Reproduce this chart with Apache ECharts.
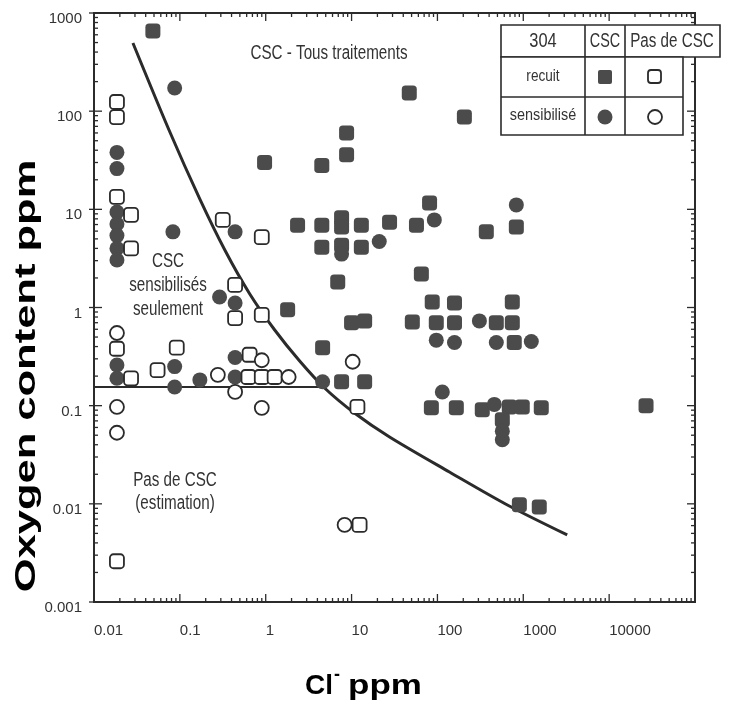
<!DOCTYPE html>
<html>
<head>
<meta charset="utf-8">
<script src="https://cdn.jsdelivr.net/npm/echarts@6/dist/echarts.min.js"></script>
<style>
  html, body { margin: 0; padding: 0; background: #fff; }
  #chart { width: 747px; height: 705px; }
</style>
</head>
<body>
<div id="chart"></div>
<script>
// axis ticks
var xTickLabels = ['0.01', '0.1', '1', '10', '100', '1000', '10000', ''];
var yTickLabels = ['0.001', '0.01', '0.1', '1', '10', '100', '1000'];

// 304 recuit, CSC (filled squares)
var recuitCSC = [
  [0.0485, 656], [0.97, 30], [4.5, 28], [8.75, 60], [8.75, 36], [47, 153], [206, 87],
  [2.35, 6.9], [4.5, 6.9], [4.5, 4.1], [7.65, 8.2], [7.65, 6.6], [7.65, 4.3],
  [13, 6.9], [13, 4.1], [27.7, 7.4], [57, 6.9], [81, 11.6], [371, 5.9], [830, 6.6],
  [1.8, 0.95], [6.9, 1.82], [65, 2.2], [10, 0.7], [14.2, 0.73], [4.6, 0.39],
  [7.65, 0.175], [14.2, 0.175], [87, 1.14], [158, 1.11], [745, 1.14],
  [51, 0.71], [97, 0.7], [158, 0.7], [485, 0.7], [745, 0.7], [785, 0.44],
  [85, 0.095], [166, 0.095], [333, 0.091], [687, 0.097], [973, 0.097], [1620, 0.095],
  [26900, 0.1], [570, 0.072], [900, 0.0098], [1535, 0.0093]
];
// 304 sensibilisé, CSC (filled circles)
var sensCSC = [
  [0.087, 172], [0.0185, 38], [0.0185, 26], [0.0185, 9.4], [0.0185, 7.1], [0.0185, 5.4],
  [0.0185, 4.0], [0.0185, 3.05], [0.083, 5.9], [0.44, 5.9], [0.29, 1.28], [0.44, 1.11],
  [0.0185, 0.26], [0.0185, 0.19], [0.087, 0.25], [0.087, 0.155], [0.171, 0.183],
  [0.44, 0.31], [0.44, 0.196], [7.65, 3.5], [21, 4.7], [92, 7.8], [830, 11.1],
  [4.6, 0.175], [308, 0.73], [97, 0.465], [158, 0.44], [485, 0.44], [1240, 0.45],
  [114, 0.138], [460, 0.103], [570, 0.055], [570, 0.045]
];
// 304 recuit, pas de CSC (open squares)
var recuitNoCSC = [
  [0.0185, 124], [0.0185, 87], [0.0185, 13.4], [0.027, 8.8], [0.027, 4.0], [0.316, 7.8],
  [0.9, 5.2], [0.44, 1.7], [0.44, 0.78], [0.9, 0.84], [0.0185, 0.38], [0.027, 0.19],
  [0.055, 0.23], [0.092, 0.39], [0.65, 0.33], [0.63, 0.196], [0.9, 0.196], [1.27, 0.196],
  [11.7, 0.097], [12.4, 0.0061], [0.0185, 0.0026]
];
// 304 sensibilisé, pas de CSC (open circles)
var sensNoCSC = [
  [0.0185, 0.55], [0.0185, 0.097], [0.0185, 0.053], [0.277, 0.206], [0.44, 0.138],
  [0.9, 0.29], [1.85, 0.196], [0.9, 0.095], [10.3, 0.28], [8.3, 0.0061]
];
// limite CSC
var boundary = [
  [0.0284, 495], [0.0765, 61.3], [0.171, 12.7], [0.334, 3.85], [0.652, 1.373],
  [1.273, 0.59], [2.485, 0.285], [4.85, 0.1514], [10.8, 0.0842], [27.7, 0.048],
  [138, 0.0211], [687, 0.0095], [3248, 0.00482]
];
var sensLimit = [[0.01, 0.155], [4.6, 0.155]];

var FILL = '#4b4b4b', INK = '#2b2b2b';
var TXT = '"Liberation Sans", Arial, sans-serif';

// log ticks (decoration)
function logTicks(lo, hi) {
  var out = [];
  for (var e = lo; e < hi; e++) {
    for (var m = 1; m < 10; m++) out.push([m * Math.pow(10, e), m === 1 ? 1 : 0]);
  }
  out.push([Math.pow(10, hi), 1]);
  return out;
}
var xTicks = logTicks(-2, 5).map(function (t) { return [t[0], 1, t[1]]; });
var yTicks = logTicks(-3, 3).map(function (t) { return [1, t[0], t[1]]; });

function tickStyle() { return { stroke: INK, lineWidth: 1.3 }; }

function txt(s, x, y, size, sx, extra) {
  return {
    type: 'text', x: x, y: y, scaleX: sx || 1, z: 100,
    style: {
      text: s, font: (extra || '') + size + 'px ' + TXT, fill: '#333',
      textAlign: 'center', textVerticalAlign: 'middle', align: 'center', verticalAlign: 'middle'
    }
  };
}
function ln(x1, y1, x2, y2) {
  return { type: 'line', z: 100, shape: { x1: x1, y1: y1, x2: x2, y2: y2 }, style: { stroke: INK, lineWidth: 1.6 } };
}

var graphics = [
  txt('CSC - Tous traitements', 329, 53, 20, 0.76),
  txt('CSC', 168, 261, 20, 0.76),
  txt('sensibilisés', 168, 285, 20, 0.76),
  txt('seulement', 168, 309, 20, 0.76),
  txt('Pas de CSC', 175, 480, 20, 0.76),
  txt('(estimation)', 175, 503, 20, 0.76),
  // legend table
  { type: 'rect', z: 99, shape: { x: 501, y: 25, width: 219, height: 32 }, style: { fill: '#fff', stroke: INK, lineWidth: 1.6 } },
  { type: 'rect', z: 99, shape: { x: 501, y: 57, width: 182, height: 78 }, style: { fill: '#fff', stroke: INK, lineWidth: 1.6 } },
  ln(585, 25, 585, 135), ln(625, 25, 625, 135), ln(501, 97, 683, 97),
  txt('304', 543, 41, 20, 0.82),
  txt('CSC', 605, 41, 20, 0.72),
  txt('Pas de CSC', 672, 41, 20, 0.76),
  txt('recuit', 543, 77, 16, 0.85),
  txt('sensibilisé', 543, 116, 16, 0.9),
  { type: 'rect', z: 100, shape: { x: 598, y: 70, width: 14, height: 14, r: 2 }, style: { fill: FILL } },
  { type: 'rect', z: 100, shape: { x: 648, y: 70, width: 13, height: 13, r: 3 }, style: { fill: '#fff', stroke: INK, lineWidth: 1.8 } },
  { type: 'circle', z: 100, shape: { cx: 605, cy: 117, r: 7.5 }, style: { fill: FILL } },
  { type: 'circle', z: 100, shape: { cx: 655, cy: 117, r: 7 }, style: { fill: '#fff', stroke: INK, lineWidth: 1.8 } },
  // axis titles
  {
    type: 'text', x: 27, y: 376, rotation: Math.PI / 2, scaleX: 1.45, z: 100,
    style: { text: 'Oxygen content ppm', font: 'bold 30px ' + TXT, fill: '#000',
      textAlign: 'center', textVerticalAlign: 'middle', align: 'center', verticalAlign: 'middle' }
  },
  {
    type: 'text', x: 333, y: 686, z: 100,
    style: { text: 'Cl', font: 'bold 28px ' + TXT, fill: '#000',
      textAlign: 'right', textVerticalAlign: 'middle', align: 'right', verticalAlign: 'middle' }
  },
  {
    type: 'text', x: 334, y: 675, z: 100,
    style: { text: '-', font: 'bold 18px ' + TXT, fill: '#000',
      textAlign: 'left', textVerticalAlign: 'middle', align: 'left', verticalAlign: 'middle' }
  },
  {
    type: 'text', x: 348, y: 686, scaleX: 1.25, z: 100,
    style: { text: 'ppm', font: 'bold 28px ' + TXT, fill: '#000',
      textAlign: 'left', textVerticalAlign: 'middle', align: 'left', verticalAlign: 'middle' }
  }
];

var chart = echarts.init(document.getElementById('chart'));
chart.setOption({
  animation: false,
  backgroundColor: '#fff',
  grid: { left: 94, right: 52, top: 13, bottom: 103, show: true, borderColor: INK, borderWidth: 2, backgroundColor: 'transparent' },
  xAxis: {
    type: 'log', logBase: 10, min: 0.01, max: 100000,
    axisLine: { show: false }, axisTick: { show: false }, splitLine: { show: false },
    axisLabel: {
      margin: 21, align: 'left', color: '#333', fontSize: 15, fontFamily: TXT,
      formatter: function (v) { return xTickLabels[Math.round(Math.log10(v)) + 2] || ''; }
    }
  },
  yAxis: {
    type: 'log', logBase: 10, min: 0.001, max: 1000,
    axisLine: { show: false }, axisTick: { show: false }, splitLine: { show: false },
    axisLabel: {
      margin: 12, color: '#333', fontSize: 15, fontFamily: TXT,
      formatter: function (v) { return '{a|' + (yTickLabels[Math.round(Math.log10(v)) + 3] || '') + '}'; },
      rich: { a: { fontSize: 15, fontFamily: TXT, color: '#333', padding: [12, 0, 0, 0] } }
    }
  },
  graphic: graphics,
  series: [
    {
      type: 'custom', data: xTicks, encode: { x: 0, y: 1 }, clip: false, silent: true, z: 5,
      renderItem: function (params, api) {
        var x = api.value(0), len = api.value(2) ? 8 : 4;
        var b = api.coord([x, 0.001]), t = api.coord([x, 1000]);
        return { type: 'group', children: [
          { type: 'line', shape: { x1: b[0], y1: b[1], x2: b[0], y2: b[1] - len }, style: tickStyle() },
          { type: 'line', shape: { x1: t[0], y1: t[1], x2: t[0], y2: t[1] + len }, style: tickStyle() }
        ] };
      }
    },
    {
      type: 'custom', data: yTicks, encode: { x: 0, y: 1 }, clip: false, silent: true, z: 5,
      renderItem: function (params, api) {
        var y = api.value(1), major = api.value(2), len = major ? 8 : 4;
        var l = api.coord([0.01, y]), r = api.coord([100000, y]);
        return { type: 'group', children: [
          { type: 'line', shape: { x1: l[0] - (major ? 5 : 0), y1: l[1], x2: l[0] + len, y2: l[1] }, style: tickStyle() },
          { type: 'line', shape: { x1: r[0], y1: r[1], x2: r[0] - len, y2: r[1] }, style: tickStyle() }
        ] };
      }
    },
    {
      name: 'limite', type: 'line', data: boundary, smooth: 0.3, symbol: 'none', z: 1,
      lineStyle: { color: INK, width: 3 }
    },
    {
      name: 'seuil', type: 'line', data: sensLimit, symbol: 'none', z: 1,
      lineStyle: { color: INK, width: 2 }
    },
    {
      name: 'recuit CSC', type: 'scatter', data: recuitCSC, symbol: 'roundRect', symbolSize: 15,
      itemStyle: { color: FILL, opacity: 1 }
    },
    {
      name: 'sensibilisé CSC', type: 'scatter', data: sensCSC, symbol: 'circle', symbolSize: 15,
      itemStyle: { color: FILL, opacity: 1 }
    },
    {
      name: 'recuit pas de CSC', type: 'scatter', data: recuitNoCSC, symbol: 'roundRect', symbolSize: 14,
      itemStyle: { color: '#fff', borderColor: INK, borderWidth: 1.8, opacity: 1 }
    },
    {
      name: 'sensibilisé pas de CSC', type: 'scatter', data: sensNoCSC, symbol: 'circle', symbolSize: 14,
      itemStyle: { color: '#fff', borderColor: INK, borderWidth: 1.8, opacity: 1 }
    }
  ]
});
</script>
</body>
</html>
